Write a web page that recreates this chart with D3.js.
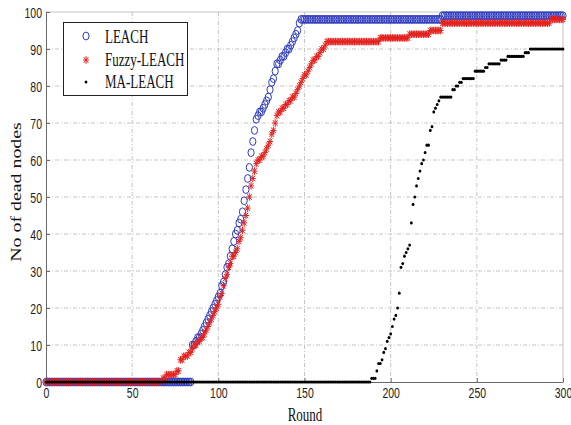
<!DOCTYPE html>
<html>
<head>
<meta charset="utf-8">
<script src="https://cdn.jsdelivr.net/npm/d3@7/dist/d3.min.js"></script>
<style>
  html, body { margin: 0; padding: 0; background: #fff; }
  svg { display: block; }
</style>
</head>
<body>
<svg id="chart" width="571" height="425"></svg>
<script>
// ---------------- DATA ----------------
const seriesNames = ["LEACH", "Fuzzy-LEACH", "MA-LEACH"];
const xTicks = [0, 50, 100, 150, 200, 250, 300];
const yTicks = [0, 10, 20, 30, 40, 50, 60, 70, 80, 90, 100];

// number of dead nodes per round (rounds 0..300)
const leachDead = [].concat(
  Array(85).fill(0),                                   // rounds 0-84
  [10,10,11,12,12,13,14,15,16,17,
   18,19,20,21,22,23,24,26,27,29,
   31,32,34,36,38,40,41,43,44,46,
   49,52,55,58,62,65,68,71,72,73,
   73,74,75,76,77,79,81,82,84,86,
   86,87,88,88,89,90,90,91,92,93,
   94,95,97],                                          // rounds 85-147
  Array(82).fill(98),                                  // rounds 148-229
  Array(71).fill(99)                                   // rounds 230-300
);

const fuzzyDead = [].concat(
  Array(68).fill(0),                                   // rounds 0-67
  [1,1,2,2,2,2,2,2,3,3],                               // rounds 68-77
  [6,6,7,7,7,8,8,9,10,10,
   11,11,12,12,13,14,15,16,17,18,
   19,20,21,23,24,26,28,29,31,32,
   34,34,35,36,38,39,41,43,45,47,
   50,53,55,57,59,60,60,61,61,62,
   63,64,65,67,68,70,72,73,73,74,
   74,75,75,76,76,77,77,78,79,80,
   81,82,83,83,84,85,86,87,87,88,
   88,89,90,90,91,92],                                 // rounds 78-163
  Array(30).fill(92),                                  // rounds 164-193
  Array(17).fill(93),                                  // rounds 194-210
  Array(12).fill(94),                                  // rounds 211-222
  Array(7).fill(95),                                   // rounds 223-229
  Array(63).fill(97),                                  // rounds 230-292
  Array(8).fill(98)                                    // rounds 293-300
);

const maDead = [].concat(
  Array(189).fill(0),                                  // rounds 0-188
  [1,1,1,3,5,5,6,8,9,11,
   12,13,15,17,18,20,24,31,32,34,
   35,36,37,43,48,50,53,55,57,59,
   60,62,64,64,68,69,73,74,75,76,
   77],                                                // rounds 189-229
  Array(6).fill(77),                                   // rounds 230-235
  [79,79,80,80,81,81,82],                              // rounds 236-242
  Array(6).fill(82),                                   // rounds 243-248
  Array(6).fill(84),                                   // rounds 249-254
  Array(2).fill(85),                                   // rounds 255-256
  Array(7).fill(86),                                   // rounds 257-263
  Array(4).fill(87),                                   // rounds 264-267
  Array(10).fill(88),                                  // rounds 268-277
  Array(3).fill(89),                                   // rounds 278-280
  Array(20).fill(90)                                   // rounds 281-300
);

// ---------------- DRAW ----------------
const svg = d3.select("#chart");
const W = 571, H = 425;
const plot = { left: 46, right: 563, top: 12, bottom: 382 };
const STRETCH = 1.42;

svg.append("rect").attr("width", W).attr("height", H).attr("fill", "#fff");

const x = d3.scaleLinear().domain([0, 300]).range([plot.left, plot.right]);
const y = d3.scaleLinear().domain([0, 100]).range([plot.bottom, plot.top]);

// grid
const grid = svg.append("g").attr("class", "grid");
grid.selectAll("line.v").data(xTicks.filter(d => d > 0)).join("line")
  .attr("x1", d => x(d)).attr("x2", d => x(d))
  .attr("y1", plot.top).attr("y2", plot.bottom)
  .attr("stroke", "#c4c4c4").attr("stroke-width", 1)
  .attr("stroke-dasharray", d => d === 300 ? null : "4,2,1,2");
grid.selectAll("line.h").data(yTicks.filter(d => d > 0)).join("line")
  .attr("x1", plot.left).attr("x2", plot.right)
  .attr("y1", d => y(d)).attr("y2", d => y(d))
  .attr("stroke", "#c4c4c4").attr("stroke-width", 1)
  .attr("stroke-dasharray", d => d === 100 ? null : "4,2,1,2");

// axes
const xAxis = svg.append("g").attr("transform", `translate(0,${plot.bottom})`)
  .call(d3.axisBottom(x).tickValues(xTicks).tickSizeInner(-4).tickSizeOuter(0).tickPadding(0));
const yAxis = svg.append("g").attr("transform", `translate(${plot.left},0)`)
  .call(d3.axisLeft(y).tickValues(yTicks).tickSizeInner(-4).tickSizeOuter(0).tickPadding(0));

[xAxis, yAxis].forEach(g => {
  g.select(".domain").attr("stroke", "#6a6a6a");
  g.selectAll(".tick line").attr("stroke", "#6a6a6a");
  g.selectAll(".tick text")
    .attr("fill", "#222")
    .attr("font-family", "'Liberation Sans', Arial, sans-serif")
    .attr("font-size", 10.5);
});
xAxis.selectAll(".tick text")
  .attr("y", null).attr("dy", null)
  .attr("transform", `translate(0,16) scale(1,${STRETCH})`);
yAxis.selectAll(".tick text")
  .attr("x", null).attr("dy", null)
  .attr("text-anchor", "end")
  .attr("transform", `translate(-4,5.2) scale(1,${STRETCH})`);

// axis labels
svg.append("text")
  .attr("transform", `translate(305,421) scale(1,${STRETCH})`)
  .attr("text-anchor", "middle")
  .attr("font-family", "'Liberation Serif', 'Times New Roman', serif")
  .attr("font-size", 13).attr("fill", "#111")
  .text("Round");
svg.append("text")
  .attr("transform", `translate(21,192) rotate(-90) scale(${STRETCH},1)`)
  .attr("text-anchor", "middle")
  .attr("font-family", "'Liberation Serif', 'Times New Roman', serif")
  .attr("font-size", 14).attr("fill", "#111")
  .text("No of dead nodes");

// markers
const BLUE = "#2f3bbf", RED = "#e3231f";
const starPath = (cx, cy, a = 3, b = 3.8) =>
  `M${cx - a},${cy}H${cx + a}M${cx},${cy - b}V${cy + b}` +
  `M${cx - a * 0.75},${cy - b * 0.75}L${cx + a * 0.75},${cy + b * 0.75}` +
  `M${cx - a * 0.75},${cy + b * 0.75}L${cx + a * 0.75},${cy - b * 0.75}`;

const rounds = d3.range(0, 301);

svg.append("g").selectAll("ellipse").data(rounds).join("ellipse")
  .attr("cx", r => x(r)).attr("cy", r => y(leachDead[r]))
  .attr("rx", 3.1).attr("ry", 3.9)
  .attr("fill", "none").attr("stroke", BLUE).attr("stroke-width", 1);

svg.append("g").selectAll("path").data(rounds).join("path")
  .attr("d", r => starPath(x(r), y(fuzzyDead[r])))
  .attr("fill", "none").attr("stroke", RED).attr("stroke-width", 1);

svg.append("g").selectAll("ellipse").data(rounds).join("ellipse")
  .attr("cx", r => x(r)).attr("cy", r => y(maDead[r]))
  .attr("rx", 1.4).attr("ry", 1.6)
  .attr("fill", "#000");

// legend
const lg = svg.append("g");
lg.append("rect").attr("x", 63.5).attr("y", 22.5).attr("width", 124).attr("height", 73)
  .attr("fill", "#fff").attr("stroke", "#222").attr("stroke-width", 1);
const rowsY = [36, 60, 82];
const baseY = [42.5, 66.3, 88.3];
lg.append("ellipse").attr("cx", 86).attr("cy", rowsY[0]).attr("rx", 3.1).attr("ry", 3.9)
  .attr("fill", "none").attr("stroke", BLUE).attr("stroke-width", 1);
lg.append("path").attr("d", starPath(86, rowsY[1])).attr("fill", "none").attr("stroke", RED).attr("stroke-width", 1);
lg.append("ellipse").attr("cx", 86).attr("cy", rowsY[2]).attr("rx", 1.4).attr("ry", 1.6).attr("fill", "#000");
seriesNames.forEach((name, i) => {
  lg.append("text")
    .attr("transform", `translate(105,${baseY[i]}) scale(1,${STRETCH})`)
    .attr("font-family", "'Liberation Serif', 'Times New Roman', serif")
    .attr("font-size", 13).attr("fill", "#111")
    .text(name);
});
</script>
</body>
</html>
